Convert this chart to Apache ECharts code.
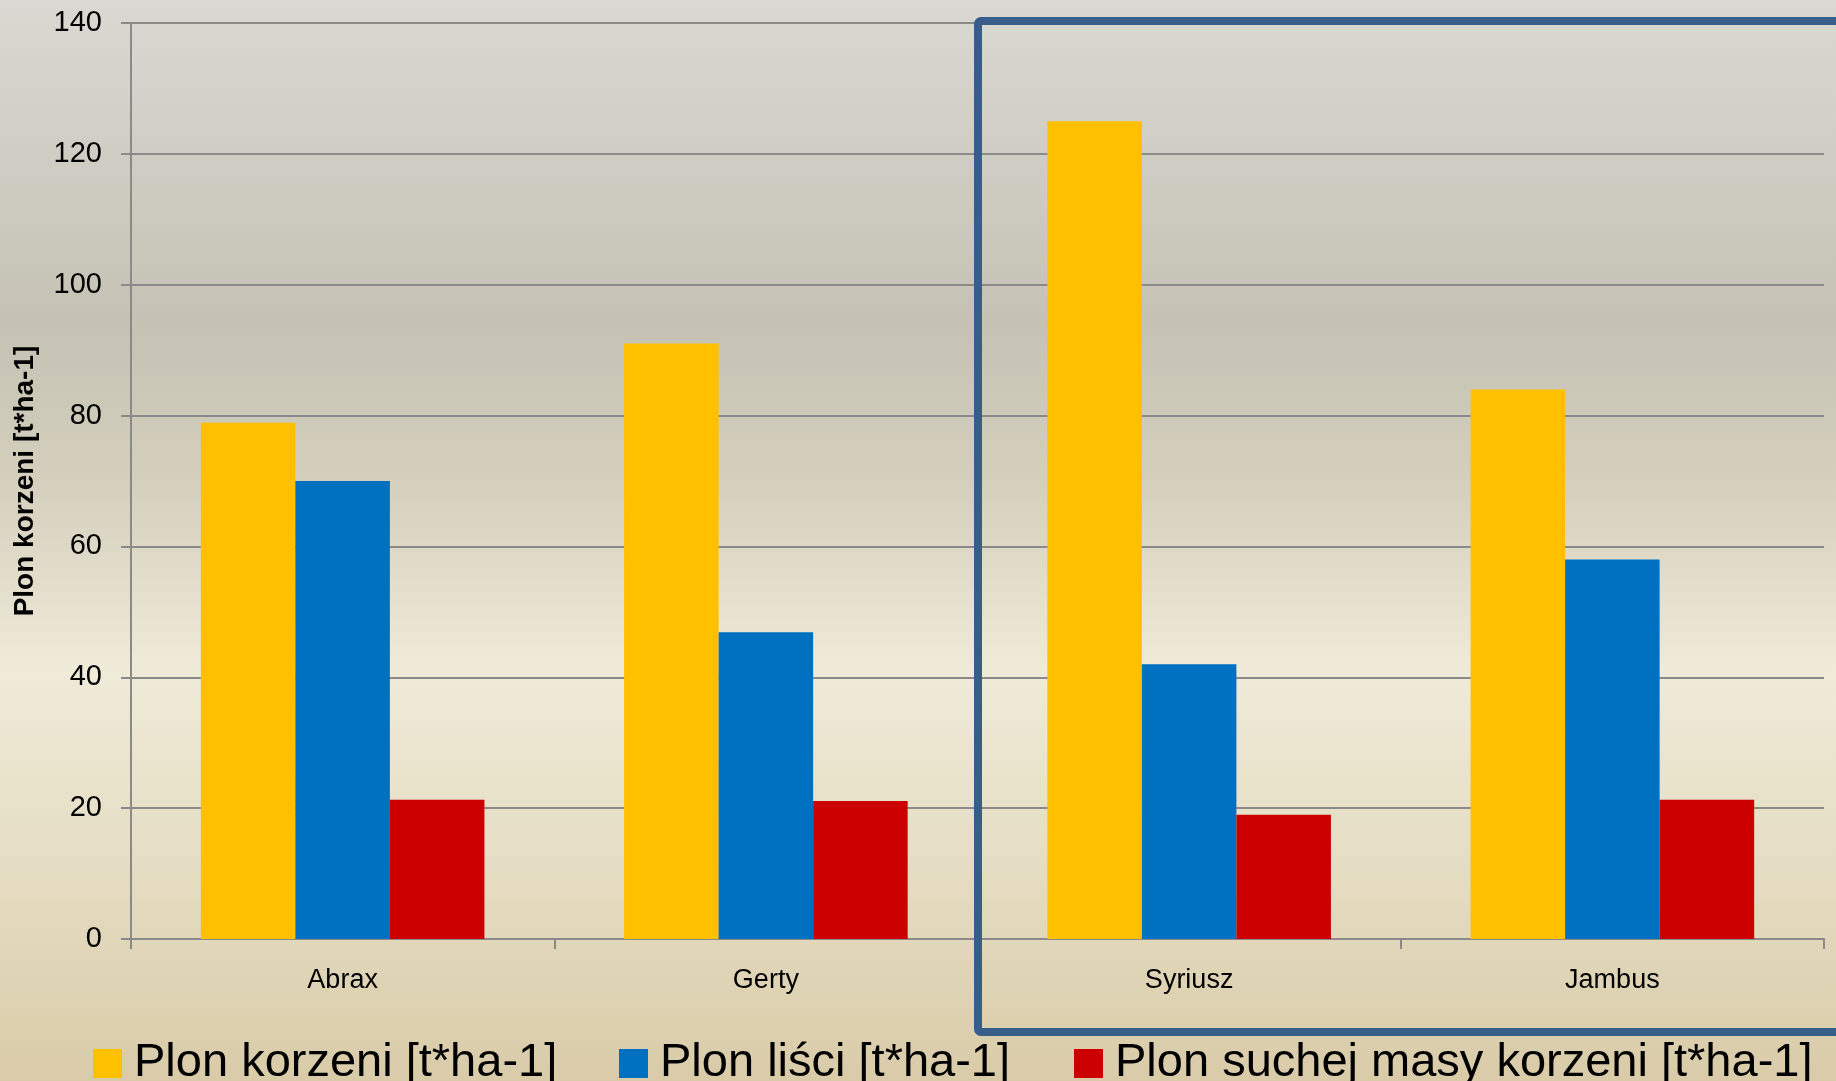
<!DOCTYPE html>
<html>
<head>
<meta charset="utf-8">
<script src="https://cdn.jsdelivr.net/npm/echarts@6/dist/echarts.min.js"></script>
<style>
  html, body { margin: 0; padding: 0; }
  #chart { width: 1836px; height: 1081px; }
</style>
</head>
<body>
<div id="chart"></div>
<script>
const categories = ['Abrax', 'Gerty', 'Syriusz', 'Jambus'];
const seriesNames = ['Plon korzeni [t*ha-1]', 'Plon liści [t*ha-1]', 'Plon suchej masy korzeni [t*ha-1]'];
const plonKorzeni = [78.9, 91, 125, 84];
const plonLisci = [70, 46.9, 42, 58];
const plonSuchejMasy = [21.3, 21.1, 19.0, 21.3];
const yTicks = [0, 20, 40, 60, 80, 100, 120, 140];

const colors = ['#ffc000', '#0070c0', '#cc0000'];
const font = 'Liberation Sans, Arial, sans-serif';
const gridColor = '#8a8a8a';

const chart = echarts.init(document.getElementById('chart'));

function legendAt(name, left) {
  return {
    data: [name],
    left: left,
    top: 1035,
    itemWidth: 29,
    itemHeight: 29,
    icon: 'rect',
    selectedMode: false,
    textStyle: {
      fontFamily: font,
      fontSize: 47,
      color: '#000',
      padding: [0, 0, 0, 7],
    },
  };
}

const option = {
  backgroundColor: {
    type: 'linear',
    x: 0, y: 0, x2: 0, y2: 1,
    colorStops: [
      { offset: 0, color: '#d9d8d2' },
      { offset: 0.3, color: '#c5c2b4' },
      { offset: 0.45, color: '#d5d0bd' },
      { offset: 0.62, color: '#efebd8' },
      { offset: 0.8, color: '#e5ddc3' },
      { offset: 1, color: '#d9cba8' },
    ],
  },
  color: colors,
  textStyle: { fontFamily: font },
  legend: [
    legendAt(seriesNames[0], 88),
    legendAt(seriesNames[1], 614),
    legendAt(seriesNames[2], 1069),
  ],
  grid: {
    left: 131,
    right: 12,
    top: 23,
    bottom: 142,
  },
  xAxis: {
    type: 'category',
    data: categories,
    axisLine: { lineStyle: { color: gridColor, width: 2 } },
    axisTick: { show: true, length: 10, lineStyle: { color: gridColor, width: 2 } },
    axisLabel: {
      color: '#000',
      fontSize: 27,
      margin: 28,
      interval: 0,
    },
  },
  yAxis: {
    type: 'value',
    min: yTicks[0],
    max: yTicks[yTicks.length - 1],
    interval: 20,
    name: 'Plon korzeni [t*ha-1]',
    nameLocation: 'middle',
    nameGap: 92,
    nameTextStyle: {
      fontSize: 28,
      fontWeight: 'bold',
      color: '#000',
    },
    axisLine: { show: true, lineStyle: { color: gridColor, width: 2 } },
    axisTick: { show: true, length: 10, lineStyle: { color: gridColor, width: 2 } },
    axisLabel: {
      color: '#000',
      fontSize: 29,
      margin: 29,
    },
    splitLine: { lineStyle: { color: gridColor, width: 2 } },
  },
  series: [
    {
      name: seriesNames[0],
      type: 'bar',
      data: plonKorzeni,
      barGap: '0%',
      barCategoryGap: '33%',
    },
    {
      name: seriesNames[1],
      type: 'bar',
      data: plonLisci,
      barGap: '0%',
      barCategoryGap: '33%',
    },
    {
      name: seriesNames[2],
      type: 'bar',
      data: plonSuchejMasy,
      barGap: '0%',
      barCategoryGap: '33%',
    },
  ],
  graphic: [
    {
      // frame round Syriusz and Jambus
      type: 'rect',
      z: 100,
      shape: { x: 978, y: 21, width: 900, height: 1011, r: 3 },
      style: { fill: 'none', stroke: '#385d8a', lineWidth: 8 },
    },
  ],
};

chart.setOption(option);
window.addEventListener('resize', () => {
  chart.resize();
});
</script>
</body>
</html>
